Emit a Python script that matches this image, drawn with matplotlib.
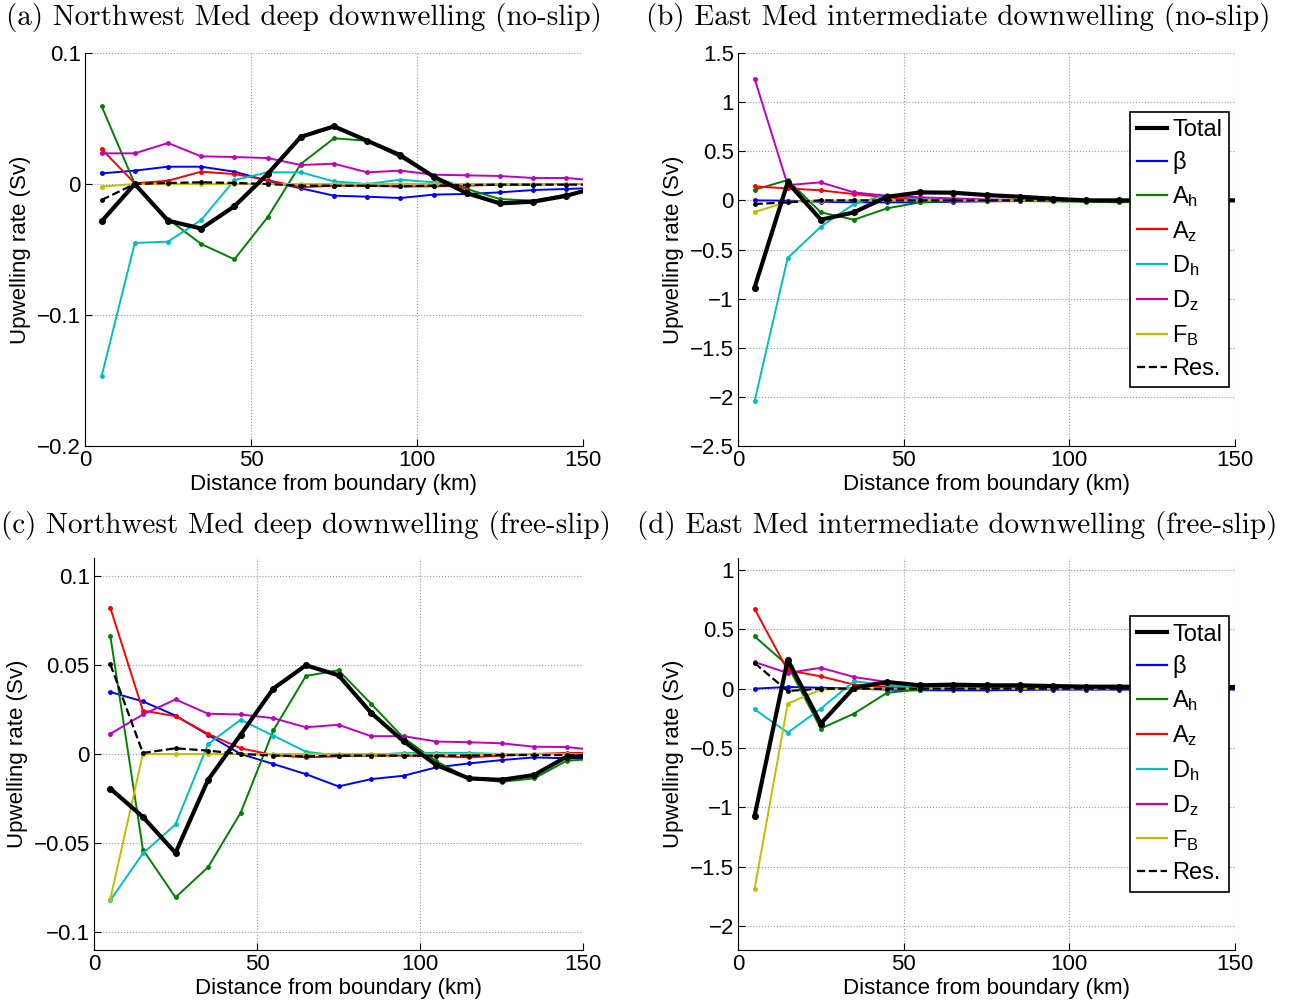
import numpy as np
import matplotlib
matplotlib.use("Agg")
import matplotlib.pyplot as plt
from matplotlib.lines import Line2D
from matplotlib.ticker import FuncFormatter, MultipleLocator

plt.rcParams['font.family'] = ['Liberation Sans', 'DejaVu Sans']
plt.rcParams['mathtext.fontset'] = 'custom'
plt.rcParams['mathtext.rm'] = 'Liberation Sans'
plt.rcParams['mathtext.it'] = 'Liberation Sans:italic'

# distance of each cell centre from the boundary (km)
dist = [5, 15, 25, 35, 45, 55, 65, 75, 85, 95, 105, 115, 125, 135, 145, 155]

# (a) Northwest Med, no-slip
total_a = [-0.0285, 0.0, -0.028, -0.034, -0.017, 0.0076, 0.036, 0.044, 0.033, 0.022, 0.0056, -0.007, -0.0148, -0.0135, -0.009, -0.002]
beta_a = [0.0081, 0.0102, 0.0132, 0.0132, 0.0094, 0.0025, -0.0033, -0.0089, -0.0097, -0.0107, -0.0081, -0.0076, -0.0064, -0.0046, -0.0038, -0.0028]
ah_a = [0.0595, 0.0, -0.0267, -0.0458, -0.0575, -0.0254, 0.0153, 0.0349, 0.033, 0.0204, 0.0056, -0.0038, -0.0115, -0.0127, -0.008, -0.004]
az_a = [0.0267, 0.0005, 0.0025, 0.0094, 0.0076, 0.003, -0.0025, -0.0013, -0.0013, -0.0018, -0.0018, -0.0013, -0.0005, -0.0005, 0.0, 0.0]
dh_a = [-0.1468, -0.045, -0.044, -0.0275, 0.003, 0.0089, 0.0089, 0.002, 0.0, 0.0033, 0.0013, -0.0005, -0.0005, 0.0, 0.0, 0.0]
dz_a = [0.0234, 0.0234, 0.0313, 0.0211, 0.0206, 0.0198, 0.0145, 0.0155, 0.0089, 0.0102, 0.0071, 0.0066, 0.0061, 0.0046, 0.0046, 0.0024]
fb_a = [-0.002, 0.0, 0.0, 0.0, 0.0, 0.0, 0.0, 0.0, 0.0, 0.0, 0.0, 0.0, 0.0, 0.0, 0.0, 0.0]
res_a = [-0.0122, 0.0, 0.0008, 0.0013, 0.0008, 0.0, -0.0013, -0.0013, -0.0013, -0.0018, -0.0013, -0.0008, -0.0005, -0.0005, -0.0005, -0.0005]

# (b) East Med, no-slip
total_b = [-0.888, 0.183, -0.197, -0.122, 0.037, 0.081, 0.078, 0.054, 0.037, 0.017, 0.0, 0.0, 0.0, 0.0, 0.0, 0.0]
beta_b = [0.0, -0.003, -0.014, -0.02, -0.02, -0.02, -0.014, -0.01, -0.007, -0.005, -0.003, -0.002, 0.0, 0.0, 0.0, 0.0]
ah_b = [0.108, 0.207, -0.122, -0.197, -0.081, -0.02, -0.003, -0.003, -0.007, -0.01, -0.014, -0.02, -0.01, 0.0, 0.0, 0.0]
az_b = [0.142, 0.122, 0.102, 0.064, 0.031, 0.003, 0.0, 0.0, 0.0, 0.0, 0.0, 0.0, 0.0, 0.0, 0.0, 0.0]
dh_b = [-2.044, -0.586, -0.268, -0.037, 0.058, 0.014, 0.0, 0.0, 0.0, 0.0, 0.0, 0.0, 0.0, 0.0, 0.0, 0.0]
dz_b = [1.24, 0.156, 0.183, 0.081, 0.047, 0.031, 0.02, 0.01, 0.005, 0.0, 0.0, 0.0, 0.0, 0.0, 0.0, 0.0]
fb_b = [-0.119, -0.014, -0.003, 0.0, 0.0, 0.0, 0.0, 0.0, 0.0, 0.0, 0.0, 0.0, 0.0, 0.0, 0.0, 0.0]
res_b = [-0.037, -0.02, 0.0, 0.0, 0.0, 0.0, 0.0, 0.0, 0.0, 0.0, 0.0, 0.0, 0.0, 0.0, 0.0, 0.0]

# (c) Northwest Med, free-slip
total_c = [-0.0194, -0.0353, -0.0555, -0.0145, 0.0109, 0.0367, 0.0498, 0.0442, 0.0231, 0.0071, -0.0062, -0.0137, -0.0145, -0.0118, -0.0015, -0.0012]
beta_c = [0.0348, 0.0295, 0.0216, 0.0107, 0.0, -0.0056, -0.0113, -0.0182, -0.0141, -0.0122, -0.0075, -0.0053, -0.0034, -0.0019, -0.0024, -0.0024]
ah_c = [0.0664, -0.0536, -0.0805, -0.0635, -0.0329, 0.0132, 0.0438, 0.047, 0.0282, 0.009, -0.0041, -0.0137, -0.0156, -0.0137, -0.0038, -0.0025]
az_c = [0.0821, 0.0244, 0.0212, 0.0113, 0.0032, -0.0006, -0.0019, -0.0013, -0.0009, -0.0009, -0.0013, -0.0019, -0.0009, 0.0, 0.0006, 0.0006]
dh_c = [-0.0821, -0.0558, -0.0395, 0.0056, 0.0192, 0.0103, 0.0013, -0.0009, -0.0006, 0.0006, 0.0006, 0.0006, 0.0, 0.0, 0.0, 0.0]
dz_c = [0.0113, 0.0222, 0.0306, 0.0226, 0.0222, 0.0201, 0.015, 0.0164, 0.01, 0.01, 0.007, 0.0066, 0.006, 0.0041, 0.0039, 0.002]
fb_c = [-0.0814, 0.0, 0.0, 0.0, 0.0, 0.0, 0.0, 0.0, 0.0, 0.0, 0.0, 0.0, 0.0, 0.0, 0.0, 0.0]
res_c = [0.0504, 0.0006, 0.0032, 0.0019, 0.0, -0.0009, -0.0013, -0.0009, -0.0009, -0.0009, -0.0009, -0.0009, -0.0006, -0.0006, -0.0006, -0.0006]

# (d) East Med, free-slip
total_d = [-1.073, 0.244, -0.294, 0.008, 0.056, 0.028, 0.034, 0.028, 0.028, 0.022, 0.017, 0.017, 0.014, 0.014, 0.014, 0.014]
beta_d = [0.0, 0.014, 0.008, 0.0, -0.008, -0.014, -0.014, -0.014, -0.011, -0.008, -0.008, -0.008, -0.008, -0.008, -0.008, -0.008]
ah_d = [0.44, 0.196, -0.336, -0.21, -0.034, -0.008, 0.0, 0.0, 0.0, 0.0, 0.0, 0.0, 0.0, 0.0, 0.0, 0.0]
az_d = [0.672, 0.154, 0.104, 0.034, 0.014, 0.0, 0.0, 0.0, 0.0, 0.0, 0.0, 0.0, 0.0, 0.0, 0.0, 0.0]
dh_d = [-0.174, -0.37, -0.168, 0.062, 0.028, 0.008, 0.0, 0.0, 0.0, 0.0, 0.0, 0.0, 0.0, 0.0, 0.0, 0.0]
dz_d = [0.224, 0.132, 0.176, 0.098, 0.056, 0.034, 0.02, 0.014, 0.008, 0.005, 0.003, 0.0, 0.0, 0.0, 0.0, 0.0]
fb_d = [-1.689, -0.126, -0.008, 0.0, 0.0, 0.0, 0.0, 0.0, 0.0, 0.0, 0.0, 0.0, 0.0, 0.0, 0.0, 0.0]
res_d = [0.216, -0.02, 0.0, 0.0, 0.0, 0.0, 0.0, 0.0, 0.0, 0.0, 0.0, 0.0, 0.0, 0.0, 0.0, 0.0]

titles = ["(a) Northwest Med deep downwelling (no-slip)",
          "(b) East Med intermediate downwelling (no-slip)",
          "(c) Northwest Med deep downwelling (free-slip)",
          "(d) East Med intermediate downwelling (free-slip)"]
labels = ["Total", "β", "A$_\\mathrm{h}$", "A$_\\mathrm{z}$", "D$_\\mathrm{h}$",
          "D$_\\mathrm{z}$", "F$_\\mathrm{B}$", "Res."]
colors = ["k", (0, 0, 1), (0, 0.5, 0), (1, 0, 0), (0, 0.75, 0.75), (0.75, 0, 0.75), (0.75, 0.75, 0), "k"]

panels = [
    [total_a, beta_a, ah_a, az_a, dh_a, dz_a, fb_a, res_a],
    [total_b, beta_b, ah_b, az_b, dh_b, dz_b, fb_b, res_b],
    [total_c, beta_c, ah_c, az_c, dh_c, dz_c, fb_c, res_c],
    [total_d, beta_d, ah_d, az_d, dh_d, dz_d, fb_d, res_d],
]
ylims = [(-0.2, 0.1), (-2.5, 1.5), (-0.11, 0.11), (-2.2, 1.1)]
ysteps = [0.1, 0.5, 0.05, 0.5]
# axes boxes in figure pixels: left, right, top, bottom
W, H = 1290, 1006
boxes = [(85, 583, 53, 446), (738, 1235, 53, 446), (94, 583, 558, 950), (738, 1235, 558, 950)]
title_pos = [(304, 18), (958, 18), (306, 525), (957, 525)]


def fmt(v, pos):
    s = "%g" % round(v, 6)
    return s.replace("-", "\u2212")


fig = plt.figure(figsize=(W / 100, H / 100), dpi=100)

for i, series in enumerate(panels):
    l, r, t, b = boxes[i]
    ax = fig.add_axes([l / W, 1 - b / H, (r - l) / W, (b - t) / H])

    # components first, the thick total on top
    for j in range(1, 8):
        ls = "--" if j == 7 else "-"
        lw = 1.6 if j == 7 else 1.4
        ax.plot(dist, series[j], color=colors[j], ls=ls, lw=lw, marker=".", ms=5, zorder=2 + j * 0.1)
    ax.plot(dist, series[0], color="k", lw=3, marker=".", ms=8, zorder=3)

    ax.set_xlim(0, 150)
    ax.set_ylim(*ylims[i])
    ax.xaxis.set_major_locator(MultipleLocator(50))
    ax.yaxis.set_major_locator(MultipleLocator(ysteps[i]))
    ax.yaxis.set_major_formatter(FuncFormatter(fmt))
    ax.grid(True, ls=":", color="0.6", lw=0.8)
    ax.spines["top"].set_visible(False)
    ax.spines["right"].set_visible(False)
    ax.tick_params(direction="in", length=5, labelsize=16, top=False, right=False, pad=3)
    ax.set_xlabel("Distance from boundary (km)", fontsize=16, labelpad=2)
    ax.set_ylabel("Upwelling rate (Sv)", fontsize=16, labelpad=4)

    fig.text(title_pos[i][0] / W, 1 - title_pos[i][1] / H, titles[i], family="cmr10",
             fontsize=21, ha="center", va="center")

    if i in (1, 3):
        handles = [Line2D([], [], color=colors[k], lw=3 if k == 0 else 1.6,
                          ls="--" if k == 7 else "-") for k in range(8)]
        leg = ax.legend(handles, labels, loc="center right", fontsize=17, frameon=True,
                        fancybox=False, framealpha=1, edgecolor="k", handlelength=1.3,
                        handletextpad=0.2, borderpad=0.3, labelspacing=0.42, borderaxespad=0.25)
        leg.get_frame().set_linewidth(1.2)
        leg.set_zorder(10)

fig.savefig("out.png", dpi=100)
